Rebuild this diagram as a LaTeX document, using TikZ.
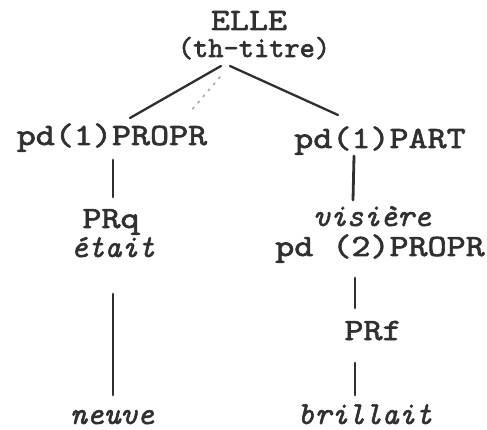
\documentclass[tikz,border=0pt]{standalone}
\usepackage{fontspec}
\usetikzlibrary{calc}
% typewriter faces: wide upright, plain upright, italic
\newfontfamily\twwide{lmmono10-regular.otf}[FakeStretch=1.17,FakeBold=2]
\newfontfamily\twplain{lmmono10-regular.otf}[FakeBold=2]
\newfontfamily\twital{lmmono10-italic.otf}[FakeBold=1.6]
\definecolor{ink}{HTML}{303030}
\definecolor{faint}{HTML}{A8A8A8}
\tikzset{
  lbl/.style={anchor=base, inner sep=0pt, text=ink, font=\fontsize{31}{33}\twwide},
  lblplain/.style={anchor=base, inner sep=0pt, text=ink, font=\fontsize{29}{31}\twplain},
  word/.style={anchor=base, inner sep=0pt, text=ink, font=\fontsize{32}{34}\twital},
  edge/.style={draw=ink, line width=2.3pt, line cap=round},
  stem/.style={draw=ink, line width=2.8pt, line cap=round},
  smudge/.style={draw=faint, line width=1.6pt, dash pattern=on 2pt off 6pt, line cap=round}
}
\begin{document}
\begin{tikzpicture}[x=1pt, y=-1pt]
  \useasboundingbox[fill=white] (0,0) rectangle (487,430);

  % root
  \node[lbl] (root) at (249,30) {ELLE};
  \node[lblplain] (tt) at (254,57) {(th-titre)};

  % left branch
  \node[lbl] (lp) at (112,145) {pd(1)PROPR};
  \node[lbl] (prq) at (111,228) {PRq};
  \node[word] (etait) at (113,257) {était};
  \node[word] (neuve) at (112,424) {neuve};

  % right branch
  \node[lbl] (rp) at (380,148) {pd(1)PART};
  \node[word] (visiere) at (372,226) {visière};
  \node[lbl] (rp2) at (380,256) {pd (2)PROPR};
  \node[lbl] (prf) at (373,340) {PRf};
  \node[word] (brillait) at (365,424) {brillait};

  % joints under the root label
  \coordinate (jl) at ($(tt.base)+(-33,9)$);
  \coordinate (jr) at ($(tt.base)+(-24,9)$);

  % branches
  \draw[edge] (jl) -- ($(lp.base)+(18,-27)$);
  \draw[edge] (jr) -- ($(rp.base)+(-42,-33)$);
  \draw[smudge] ($(tt.base)+(-34,20)$) -- ($(tt.base)+(-64,55)$);

  % stems
  \draw[stem] ($(lp.base)+(1,15)$) -- ($(prq.base)+(2,-31)$);
  \draw[stem] ($(etait.base)+(0,37)$) -- ($(neuve.base)+(1,-29)$);
  \draw[stem] ($(rp.base)+(-26,8)$) -- ($(visiere.base)+(-19,-26)$);
  \draw[stem] ($(rp2.base)+(-25,22)$) -- ($(prf.base)+(-18,-32)$);
  \draw[stem] ($(prf.base)+(-18,23)$) -- ($(brillait.base)+(-10,-29)$);
\end{tikzpicture}
\end{document}
